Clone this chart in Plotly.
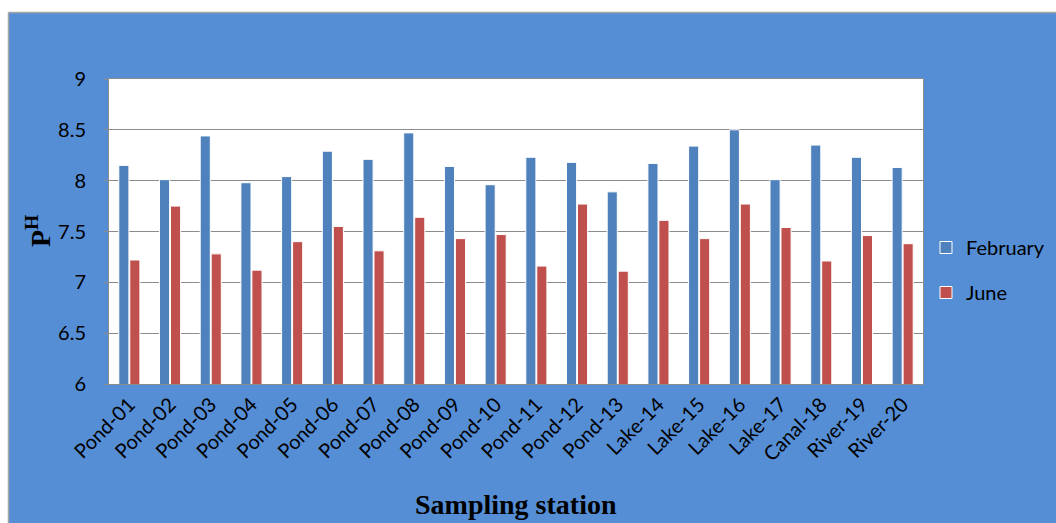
import plotly.graph_objects as go

# Sampling stations and pH readings for the two campaigns
stations = ["Pond-01", "Pond-02", "Pond-03", "Pond-04", "Pond-05", "Pond-06", "Pond-07",
            "Pond-08", "Pond-09", "Pond-10", "Pond-11", "Pond-12", "Pond-13", "Lake-14",
            "Lake-15", "Lake-16", "Lake-17", "Canal-18", "River-19", "River-20"]
ph_february = [8.15, 8.01, 8.44, 7.98, 8.04, 8.29, 8.21, 8.47, 8.14, 7.96,
               8.23, 8.18, 7.89, 8.17, 8.34, 8.50, 8.01, 8.35, 8.23, 8.13]
ph_june = [7.22, 7.75, 7.28, 7.12, 7.40, 7.55, 7.31, 7.64, 7.43, 7.47,
           7.16, 7.77, 7.11, 7.61, 7.43, 7.77, 7.54, 7.21, 7.46, 7.38]
y_ticks = [6, 6.5, 7, 7.5, 8, 8.5, 9]

W, H = 1056, 523
ML, MR, MT, MB = 109, 133, 79, 139
PW, PH = W - ML - MR, H - MT - MB


def px_x(px):
    return (px - ML) / PW


def px_y(py):
    return (H - MB - py) / PH


BG = "#558ED5"
GRID = "#8C8C8C"
SANS = "Lato, Open Sans, sans-serif"
TICK_FONT = dict(family=SANS, size=20, color="black")
TITLE_FONT = dict(family="Liberation Serif, Times New Roman, serif", size=28, color="black")

fig = go.Figure()
fig.add_trace(go.Bar(
    x=stations, y=ph_february, name="February", legendgroup="feb",
    marker=dict(color="#4F81BD", line=dict(color="white", width=1)),
))
fig.add_trace(go.Bar(
    x=stations, y=ph_june, name="June", legendgroup="jun",
    marker=dict(color="#C0504D", line=dict(color="white", width=1)),
))

fig.update_layout(
    width=W, height=H,
    margin=dict(l=ML, r=MR, t=MT, b=MB, pad=0, autoexpand=False),
    paper_bgcolor=BG, plot_bgcolor="white",
    barmode="group", bargap=0.46, bargroupgap=0.08,
    showlegend=True,
    legend=dict(
        x=px_x(926), y=px_y(270), xanchor="left", yanchor="middle",
        bgcolor="rgba(0,0,0,0)", font=dict(family=SANS, size=20, color="black"),
        traceorder="grouped", tracegroupgap=16, itemwidth=30,
    ),
    xaxis=dict(
        tickangle=-45, tickfont=TICK_FONT, showline=True, linecolor=GRID, mirror=True,
        showgrid=False, ticks="", automargin=False,
    ),
    yaxis=dict(
        range=[6, 9], tickvals=y_ticks, ticktext=[f"{v:g}" for v in y_ticks],
        tickfont=TICK_FONT, showgrid=True, gridcolor=GRID, gridwidth=1,
        showline=True, linecolor=GRID, mirror=True, ticks="outside", ticklen=4,
        tickcolor=GRID, ticklabelstandoff=14, zeroline=False, automargin=False,
    ),
    shapes=[
        # white strip and grey frame around the chart area
        dict(type="rect", xref="paper", yref="paper", x0=px_x(-5), x1=px_x(W + 5),
             y0=px_y(12.5), y1=px_y(-5), fillcolor="white", line_width=0, layer="above"),
        dict(type="rect", xref="paper", yref="paper", x0=px_x(-5), x1=px_x(8.5),
             y0=px_y(H + 5), y1=px_y(-5), fillcolor="white", line_width=0, layer="above"),
        dict(type="line", xref="paper", yref="paper", x0=px_x(8.5), x1=px_x(W + 5),
             y0=px_y(12.5), y1=px_y(12.5), line=dict(color="#A6A6A6", width=1.5), layer="above"),
        dict(type="line", xref="paper", yref="paper", x0=px_x(8.5), x1=px_x(8.5),
             y0=px_y(12.5), y1=px_y(H + 5), line=dict(color="#A6A6A6", width=1.5), layer="above"),
    ],
    annotations=[
        dict(text="<b>P<sup>H</sup></b>", xref="paper", yref="paper",
             x=px_x(38), y=px_y(231), textangle=-90, showarrow=False,
             xanchor="center", yanchor="middle", font=TITLE_FONT),
        dict(text="<b>Sampling station</b>", xref="paper", yref="paper",
             x=px_x(516), y=px_y(504), showarrow=False,
             xanchor="center", yanchor="middle", font=TITLE_FONT),
    ],
)

fig.write_html("out.html", config={"displayModeBar": False})
